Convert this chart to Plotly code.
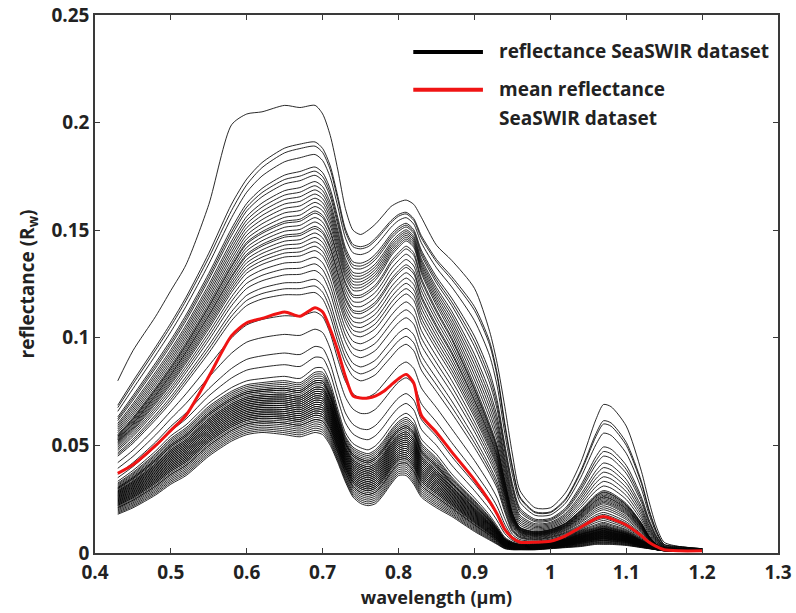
import numpy as np
import plotly.graph_objects as go

# ---------------- data ----------------
# key wavelengths (µm) at which the spectra were read
wavelength = [0.43, 0.45, 0.48, 0.50, 0.52, 0.55, 0.58, 0.60, 0.62, 0.65,
              0.67, 0.69, 0.70, 0.71, 0.72, 0.73, 0.74, 0.75, 0.76, 0.77,
              0.78, 0.79, 0.80, 0.81, 0.82, 0.83, 0.85, 0.87, 0.90, 0.92,
              0.93, 0.94, 0.95, 0.96, 0.98, 1.00, 1.02, 1.04, 1.06, 1.07,
              1.08, 1.10, 1.12, 1.13, 1.14, 1.15, 1.17, 1.20]

# mean reflectance (red curve)
mean_reflectance = [0.037, 0.041, 0.050, 0.057, 0.064, 0.082, 0.101, 0.107, 0.109, 0.112,
                    0.110, 0.114, 0.112, 0.104, 0.094, 0.082, 0.073, 0.072, 0.072, 0.073,
                    0.075, 0.078, 0.081, 0.083, 0.079, 0.064, 0.056, 0.047, 0.034, 0.024,
                    0.018, 0.011, 0.007, 0.005, 0.005, 0.0055, 0.008, 0.012, 0.016, 0.017,
                    0.016, 0.013, 0.008, 0.005, 0.003, 0.0015, 0.001, 0.001]

# reference spectra (outlines of the bundle of curves)
spec_top = [0.080, 0.094, 0.110, 0.122, 0.134, 0.162, 0.199, 0.204, 0.205, 0.208,
            0.207, 0.208, 0.204, 0.194, 0.178, 0.160, 0.150, 0.148, 0.150, 0.153,
            0.157, 0.161, 0.163, 0.164, 0.162, 0.156, 0.143, 0.136, 0.123, 0.103,
            0.088, 0.068, 0.046, 0.029, 0.021, 0.021, 0.028, 0.042, 0.062, 0.069,
            0.068, 0.059, 0.038, 0.024, 0.012, 0.005, 0.003, 0.002]
spec_high_upper = [0.068, 0.079, 0.095, 0.106, 0.118, 0.138, 0.160, 0.172, 0.180, 0.187,
                   0.189, 0.190, 0.187, 0.179, 0.165, 0.150, 0.143, 0.142, 0.143, 0.146,
                   0.150, 0.154, 0.157, 0.158, 0.155, 0.147, 0.136, 0.128, 0.114, 0.098,
                   0.083, 0.060, 0.040, 0.026, 0.019, 0.019, 0.025, 0.038, 0.055, 0.061,
                   0.060, 0.051, 0.033, 0.020, 0.010, 0.004, 0.003, 0.002]
spec_high_mid = [0.055, 0.063, 0.077, 0.087, 0.098, 0.116, 0.135, 0.146, 0.151, 0.156,
                 0.157, 0.161, 0.159, 0.152, 0.140, 0.128, 0.122, 0.122, 0.124, 0.127,
                 0.132, 0.138, 0.142, 0.145, 0.142, 0.130, 0.115, 0.102, 0.078, 0.060,
                 0.050, 0.034, 0.019, 0.012, 0.010, 0.011, 0.014, 0.020, 0.027, 0.029,
                 0.028, 0.023, 0.014, 0.008, 0.004, 0.002, 0.0015, 0.001]
spec_high_lower = [0.045, 0.051, 0.062, 0.070, 0.079, 0.093, 0.108, 0.115, 0.118, 0.120,
                   0.120, 0.121, 0.118, 0.110, 0.098, 0.088, 0.082, 0.080, 0.081, 0.083,
                   0.087, 0.091, 0.095, 0.097, 0.094, 0.085, 0.075, 0.065, 0.049, 0.037,
                   0.030, 0.019, 0.010, 0.007, 0.006, 0.007, 0.009, 0.012, 0.016, 0.017,
                   0.016, 0.013, 0.008, 0.005, 0.003, 0.002, 0.001, 0.001]
spec_low_upper = [0.033, 0.038, 0.047, 0.054, 0.059, 0.069, 0.076, 0.079, 0.080, 0.081,
                  0.080, 0.085, 0.085, 0.078, 0.066, 0.055, 0.050, 0.048, 0.047, 0.049,
                  0.053, 0.058, 0.062, 0.064, 0.061, 0.052, 0.045, 0.036, 0.025, 0.017,
                  0.012, 0.007, 0.005, 0.004, 0.004, 0.005, 0.007, 0.010, 0.012, 0.013,
                  0.012, 0.010, 0.006, 0.004, 0.002, 0.0015, 0.001, 0.001]
spec_low_lower = [0.018, 0.021, 0.027, 0.032, 0.036, 0.045, 0.052, 0.055, 0.056, 0.055,
                  0.054, 0.056, 0.055, 0.050, 0.042, 0.033, 0.026, 0.023, 0.022, 0.023,
                  0.027, 0.032, 0.036, 0.036, 0.032, 0.026, 0.021, 0.017, 0.010, 0.006,
                  0.004, 0.002, 0.0015, 0.0015, 0.0015, 0.002, 0.0025, 0.003, 0.004, 0.004,
                  0.004, 0.0035, 0.0025, 0.002, 0.0015, 0.001, 0.001, 0.001]
# reflectance of each reference spectrum at 0.66 µm
reference_levels = [0.056, 0.085, 0.121, 0.160, 0.190, 0.208]

# reflectance at 0.66 µm of every black spectrum
levels_high = [0.208, 0.191, 0.189, 0.185, 0.179, 0.177, 0.175, 0.172, 0.170, 0.168,
               0.166, 0.164, 0.162, 0.160, 0.158, 0.157, 0.155, 0.153, 0.151, 0.150,
               0.148, 0.146, 0.144, 0.142, 0.140, 0.137, 0.134, 0.131, 0.127, 0.124,
               0.121]
levels_mid = [0.112, 0.104, 0.096, 0.091]
levels_low = [0.086, 0.084, 0.083, 0.082, 0.081, 0.080, 0.080, 0.079, 0.079, 0.078,
              0.077, 0.077, 0.076, 0.076, 0.075, 0.075, 0.074, 0.074, 0.073, 0.073,
              0.072, 0.072, 0.071, 0.071, 0.070, 0.070, 0.069, 0.069, 0.068, 0.068,
              0.067, 0.067, 0.066, 0.066, 0.065, 0.065, 0.064, 0.064, 0.063, 0.062,
              0.062, 0.061, 0.060, 0.059, 0.058, 0.057, 0.056]

x_ticks = [0.4, 0.5, 0.6, 0.7, 0.8, 0.9, 1.0, 1.1, 1.2, 1.3]
x_ticktext = ["0.4", "0.5", "0.6", "0.7", "0.8", "0.9", "1", "1.1", "1.2", "1.3"]
y_ticks = [0, 0.05, 0.10, 0.15, 0.20, 0.25]
y_ticktext = ["0", "0.05", "0.1", "0.15", "0.2", "0.25"]

# ---------------- build spectra ----------------
refs = np.array([spec_low_lower, spec_low_upper, spec_high_lower,
                 spec_high_mid, spec_high_upper, spec_top])
ref_lv = np.array(reference_levels)


def spectrum(level):
    k = int(np.clip(np.searchsorted(ref_lv, level) - 1, 0, len(ref_lv) - 2))
    w = (level - ref_lv[k]) / (ref_lv[k + 1] - ref_lv[k])
    return (1 - w) * refs[k] + w * refs[k + 1]


xs, ys = [], []
for lv in levels_high + levels_mid + levels_low:
    s = spectrum(lv)
    xs += list(wavelength) + [None]
    ys += list(s) + [None]

fig = go.Figure()
fig.add_trace(go.Scatter(x=xs, y=ys, mode="lines",
                         line=dict(color="rgba(5,5,5,0.85)", width=1.0, shape="spline", smoothing=0.7),
                         name="reflectance SeaSWIR dataset", hoverinfo="skip", showlegend=False))
fig.add_trace(go.Scatter(x=wavelength, y=mean_reflectance, mode="lines",
                         line=dict(color="#f01414", width=3, shape="spline", smoothing=0.7),
                         name="mean reflectance SeaSWIR dataset", hoverinfo="skip", showlegend=False))

FONT = "Open Sans"
axis_col = "#3a3a3a"

# manual legend (long line samples as in the reference)
fig.add_shape(type="line", xref="paper", yref="paper", x0=0.466, x1=0.568, y0=0.931, y1=0.931,
              line=dict(color="black", width=4))
fig.add_shape(type="line", xref="paper", yref="paper", x0=0.466, x1=0.568, y0=0.861, y1=0.861,
              line=dict(color="#f01414", width=4))
legend_font = dict(family=FONT, size=19, color="#222", weight="bold")
fig.add_annotation(xref="paper", yref="paper", x=0.588, y=0.933, text="reflectance SeaSWIR dataset",
                   showarrow=False, xanchor="left", yanchor="middle", font=legend_font)
fig.add_annotation(xref="paper", yref="paper", x=0.588, y=0.862, text="mean reflectance",
                   showarrow=False, xanchor="left", yanchor="middle", font=legend_font)
fig.add_annotation(xref="paper", yref="paper", x=0.588, y=0.808, text="SeaSWIR dataset",
                   showarrow=False, xanchor="left", yanchor="middle", font=legend_font)

fig.update_layout(
    width=796, height=613,
    margin=dict(l=95, r=18, t=15, b=60, autoexpand=False),
    paper_bgcolor="white", plot_bgcolor="white",
    font=dict(family=FONT, size=19, color="#222", weight="bold"),
    showlegend=False,
)
fig.update_xaxes(range=[0.4, 1.3], tickvals=x_ticks, ticktext=x_ticktext,
                 showgrid=False, zeroline=False, showline=True, linecolor=axis_col, linewidth=1.5,
                 mirror="ticks", ticks="inside", ticklen=5, tickwidth=1.3, tickcolor=axis_col,
                 tickfont=dict(family=FONT, size=19, weight="bold"), ticklabelstandoff=1,
                 title=dict(text="wavelength (µm)", font=dict(family=FONT, size=18, weight="bold"), standoff=3))
fig.update_yaxes(range=[0, 0.25], tickvals=y_ticks, ticktext=y_ticktext,
                 showgrid=False, zeroline=False, showline=True, linecolor=axis_col, linewidth=1.5,
                 mirror="ticks", ticks="inside", ticklen=5, tickwidth=1.3, tickcolor=axis_col,
                 tickfont=dict(family=FONT, size=19, weight="bold"),
                 title=dict(text="reflectance (R<sub>w</sub>)", font=dict(family=FONT, size=19, weight="bold"), standoff=12))

fig.write_html("out.html")
